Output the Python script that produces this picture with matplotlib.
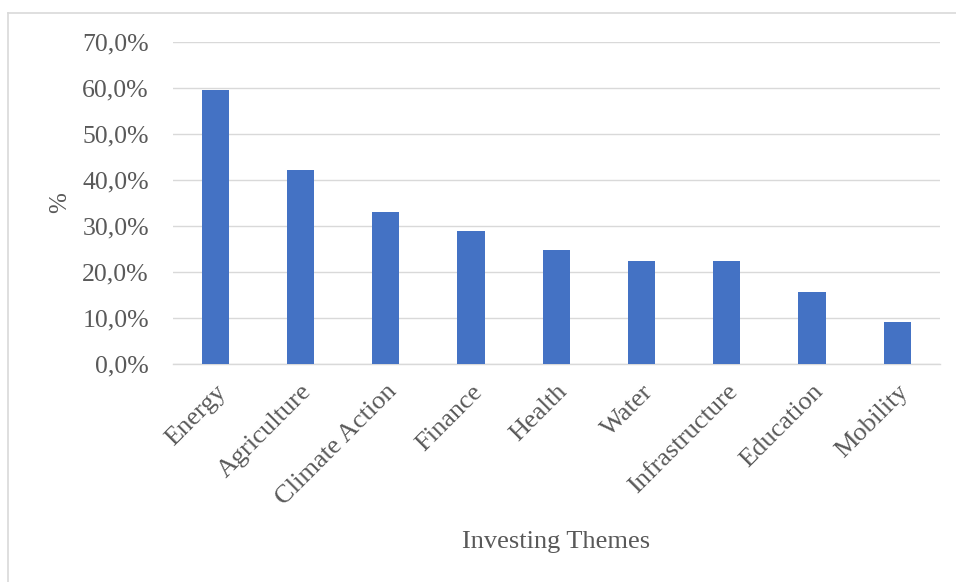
import matplotlib.pyplot as plt
from matplotlib.lines import Line2D
from matplotlib.ticker import FuncFormatter

themes = ["Energy", "Agriculture", "Climate Action", "Finance", "Health",
          "Water", "Infrastructure", "Education", "Mobility"]
shares = [59.6, 42.2, 33.1, 28.9, 24.8, 22.4, 22.4, 15.7, 9.1]
y_ticks = [0, 10, 20, 30, 40, 50, 60, 70]

BAR_COLOR = "#4472C4"
GRID_COLOR = "#D9D9D9"
TEXT_COLOR = "#595959"

plt.rcParams["font.family"] = ["Liberation Serif", "DejaVu Serif"]

fig = plt.figure(figsize=(9.56, 5.82), dpi=100)
ax = fig.add_axes([0.1805, 0.3746, 0.8028, 0.5532])

x = range(len(themes))
ax.bar(x, shares, width=0.32, color=BAR_COLOR, zorder=3)

ax.set_xlim(-0.5, len(themes) - 0.5)
ax.set_ylim(0, 70)
ax.set_yticks(y_ticks)
ax.yaxis.set_major_formatter(FuncFormatter(lambda v, _: f"{v:.1f}%".replace(".", ",")))
ax.grid(axis="y", color=GRID_COLOR, linewidth=1.0, zorder=0)
for side in ["top", "right", "left"]:
    ax.spines[side].set_visible(False)
ax.spines["bottom"].set_color(GRID_COLOR)
ax.spines["bottom"].set_linewidth(1.0)

ax.tick_params(axis="y", length=0, pad=17, labelsize=18.5, labelcolor=TEXT_COLOR)
ax.tick_params(axis="x", length=0, pad=12, labelsize=19, labelcolor=TEXT_COLOR)
ax.set_xticks(list(x))
ax.set_xticklabels(themes, rotation=45, ha="right", rotation_mode="anchor")

ax.set_ylabel("%", fontsize=18, color=TEXT_COLOR)
ax.yaxis.set_label_coords(-0.132, 0.5)
ax.set_xlabel("Investing Themes", fontsize=19, color=TEXT_COLOR, va="center")
ax.xaxis.set_label_coords(0.5, -0.553)

# light frame around the chart area
fig.add_artist(Line2D([0.0084, 0.0084], [0.0, 0.9777], color=GRID_COLOR, linewidth=1.2))
fig.add_artist(Line2D([0.0084, 1.0], [0.9777, 0.9777], color=GRID_COLOR, linewidth=1.2))

fig.savefig("out.png", dpi=100)
